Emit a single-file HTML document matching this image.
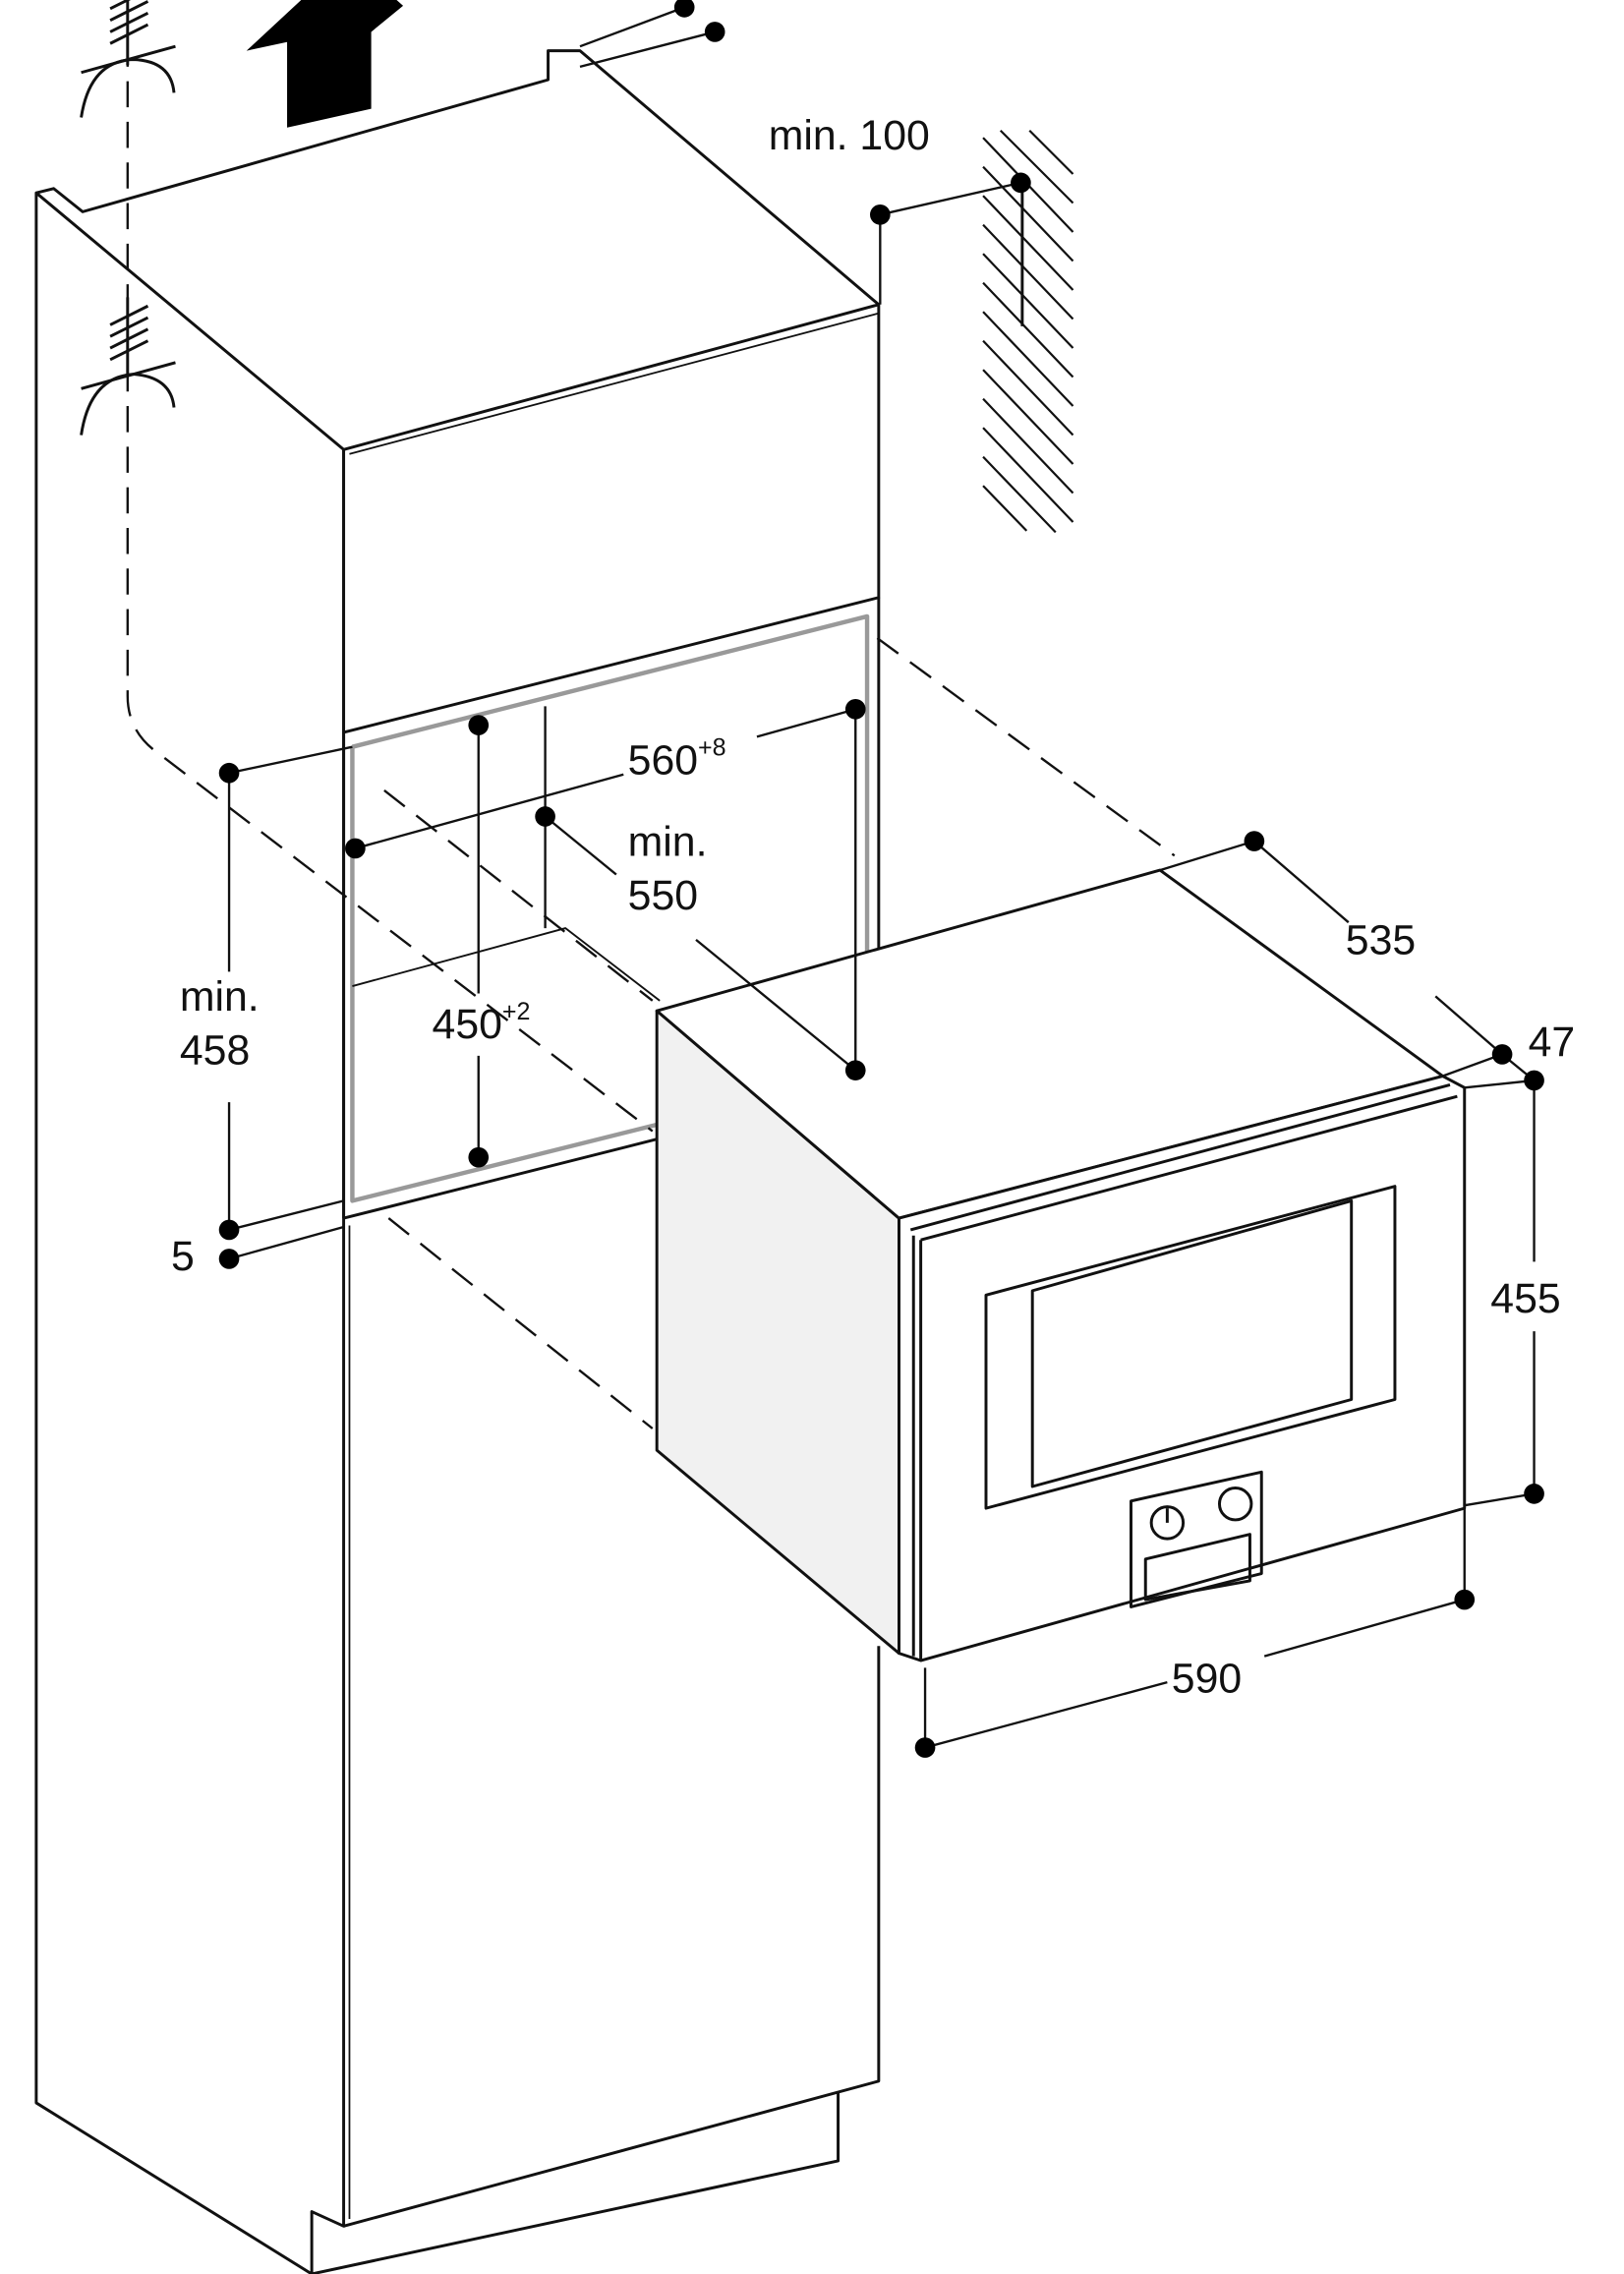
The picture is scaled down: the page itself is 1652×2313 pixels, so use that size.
<!DOCTYPE html>
<html><head><meta charset="utf-8"><style>
html,body{margin:0;padding:0;background:#fff;}
svg{display:block;}
text{font-family:"Liberation Sans",Arial,sans-serif;fill:#111;}
</style></head><body>
<svg width="1652" height="2313" viewBox="0 0 1120 1568" preserveAspectRatio="none" xmlns="http://www.w3.org/2000/svg">
<g fill="none" stroke="#111" stroke-width="2" stroke-linejoin="round">
<polygon points="25,133 237,310 237,1535 215,1525 215,1568 25,1450" fill="#fff"/>
<path d="M25,133 L37,130 L57,146 L378,55 L378,35 L400,35 L606,210"/>
<polygon points="237,310 606,210 606,412 237,505" fill="#fff"/>
<line x1="241" y1="313" x2="606" y2="216" stroke-width="1.2"/>
<path d="M237,505 L237,840" />
<path d="M606,412 L606,700"/>
<path d="M243,515 L598,425 L598,700" stroke="#999" stroke-width="3"/>
<path d="M243,515 L243,828 L455,775" stroke="#999" stroke-width="3"/>
<path d="M243,680 L390,640 L455,690" stroke-width="1.3"/>
<path d="M237,840 L455,785"/>
<path d="M241,845 L241,1530" stroke-width="1.2"/>
<path d="M606,1135 L606,1435 L237,1535"/>
<path d="M578,1443 L578,1490 L215,1568"/>
<g stroke-dasharray="18,10" stroke-width="1.6">
<path d="M88,0 L88,480 Q88,505 110,520 L450,780"/>
<path d="M265,545 L450,690"/>
<path d="M605,440 L810,590"/>
<path d="M268,840 L450,985"/>
</g>
<polygon points="453,697 620,840 620,1140 453,1000" fill="#f1f1f1"/>
<polygon points="453,697 800,600 995,742 620,840" fill="#fff"/>
<polygon points="620,840 995,742 1010,750 1010,1040 635,1145 620,1140" fill="#fff"/>
<path d="M628,848 L1000,748 M635,855 L1005,756"/>
<path d="M630,852 L630,1142 M635,855 L635,1145"/>
<polygon points="680,893 962,818 962,965 680,1040"/>
<polygon points="712,890 932,828 932,965 712,1025"/>
<polygon points="780,1035 870,1015 870,1085 780,1108"/>
<polygon points="790,1075 862,1058 862,1090 790,1103"/>
<circle cx="805" cy="1050" r="11"/><circle cx="852" cy="1037" r="11"/>
<line x1="805" y1="1040" x2="805" y2="1050"/>
<line x1="705" y1="126" x2="705" y2="225"/>
</g>
<g stroke="#111" stroke-width="1.5">
<path d="M678,95 L740,160 M678,115 L740,180 M678,135 L740,200 M678,155 L740,220 M678,175 L740,240 M678,195 L740,260 M678,215 L740,280 M678,235 L740,300 M678,255 L740,320 M678,275 L740,340 M678,295 L740,360 M678,315 L728,367 M690,90 L740,140 M710,90 L740,120 M678,335 L708,366"/>
</g>
<polygon points="198,88 256,75 256,22 278,4 240,-30 170,35 198,29" fill="#000"/>
<g fill="none" stroke="#111" stroke-width="2">
<path d="M56,81 Q62,42 92,41 Q118,42 120,64"/>
<path d="M56,50 L121,32 M88,45 L88,0"/>
<path d="M76,30 L102,17 M76,22 L102,9 M76,14 L102,1 M76,6 L102,-7"/>
<path d="M56,300 Q62,260 92,258 Q118,260 120,281"/>
<path d="M56,268 L121,250 M88,258 L88,205"/>
<path d="M76,248 L102,235 M76,240 L102,227 M76,232 L102,219 M76,224 L102,211"/>
</g>
<g stroke="#111" stroke-width="1.6" fill="none">
<path d="M400,32 L472,5 M400,46 L493,22"/>
<path d="M607,148 L607,210 M607,148 L704,126"/>
<path d="M158,533 L243,515 M158,533 L158,670 M158,760 L158,848 M158,848 L237,828 M158,868 L237,846"/>
<path d="M330,500 L330,685 M330,728 L330,798"/>
<path d="M376,487 L376,640 M376,563 L425,603 M480,648 L590,738"/>
<path d="M590,489 L590,738"/>
<path d="M245,585 L430,534 M522,508 L590,489"/>
<path d="M800,600 L865,580 L930,636 M990,687 L1036,727 M995,742 L1036,727 L1058,745 L1010,750"/>
<path d="M1058,745 L1058,870 M1058,918 L1058,1030 L1010,1038"/>
<path d="M638,1150 L638,1205 L805,1160 M872,1142 L1010,1103 L1010,1040"/>
</g>
<g fill="#000">
<circle cx="472" cy="5" r="7"/><circle cx="493" cy="22" r="7"/>
<circle cx="607" cy="148" r="7"/><circle cx="704" cy="126" r="7"/>
<circle cx="158" cy="533" r="7"/><circle cx="158" cy="848" r="7"/><circle cx="158" cy="868" r="7"/>
<circle cx="330" cy="500" r="7"/><circle cx="330" cy="798" r="7"/>
<circle cx="376" cy="563" r="7"/><circle cx="590" cy="489" r="7"/><circle cx="590" cy="738" r="7"/>
<circle cx="245" cy="585" r="7"/>
<circle cx="865" cy="580" r="7"/><circle cx="1036" cy="727" r="7"/><circle cx="1058" cy="745" r="7"/>
<circle cx="1058" cy="1030" r="7"/><circle cx="638" cy="1205" r="7"/><circle cx="1010" cy="1103" r="7"/>
</g>
<g font-size="29">
<text x="530" y="103">min. 100</text>
<text x="433" y="534">560<tspan font-size="17" dy="-13">+8</tspan></text>
<text x="433" y="590">min.</text>
<text x="433" y="627">550</text>
<text x="298" y="716">450<tspan font-size="17" dy="-13">+2</tspan></text>
<text x="124" y="697">min.</text>
<text x="124" y="734">458</text>
<text x="118" y="876">5</text>
<text x="928" y="658">535</text>
<text x="1054" y="728">47</text>
<text x="1028" y="905">455</text>
<text x="808" y="1167">590</text>
</g>
</svg>
</body></html>
